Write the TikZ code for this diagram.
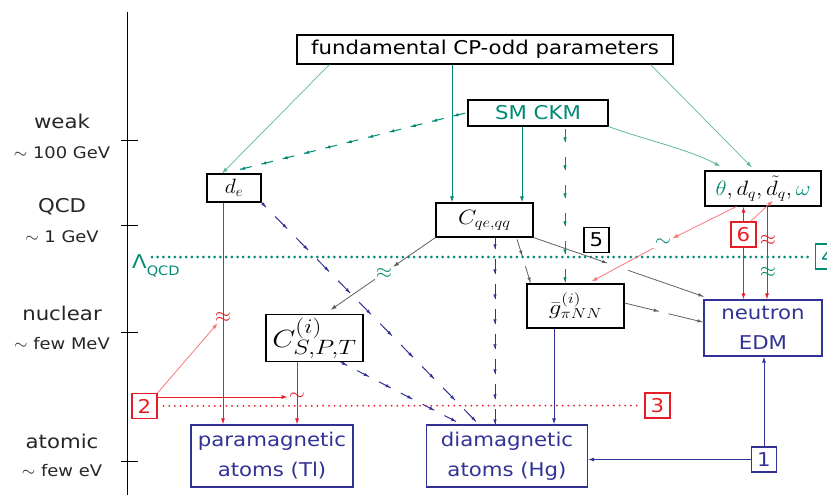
\documentclass[tikz,border=0pt]{standalone}
\usepackage{fontspec}
\setsansfont[FakeStretch=1.12]{DejaVu Sans}
\usetikzlibrary{arrows.meta,calc,decorations.markings}
\definecolor{tealc}{RGB}{0,138,115}
\definecolor{lteal}{RGB}{95,182,162}
\definecolor{bluec}{RGB}{50,50,150}
\definecolor{redc}{RGB}{232,28,36}
\definecolor{lred}{RGB}{245,120,120}
\definecolor{grayc}{RGB}{95,95,95}
\newcommand{\mth}[3]{{\fontsize{#1}{#1}\selectfont\scalebox{#2}[1]{$#3$}}}
\newcommand{\msym}[1]{{\fontsize{20.74}{24}\selectfont$#1$}}
\newcommand{\msim}{{\fontsize{17.28}{20}\selectfont$\sim$}}
\begin{document}
\begin{tikzpicture}[x=1pt,y=-1pt,
  font=\fontsize{19}{30}\selectfont\sffamily,
  >={Latex[length=6pt,width=4pt]},
  box/.style={draw, line width=1.1pt, inner sep=0pt, align=center},
  bbox/.style={box, draw=bluec, text=bluec},
  numbox/.style={box, minimum width=25pt, minimum height=25pt},
  sym/.style={inner sep=1pt},
  lbl/.style={text=black!85},
  sublbl/.style={text=black!85, font=\fontsize{16}{18}\selectfont\sffamily},
  arrdash/.style n args={3}{dash pattern=on #1 off #2,
    postaction={decorate, decoration={markings,
      mark=between positions 0pt and -0.5pt step #3 with {\arrowreversed{Latex[length=5pt,width=3.5pt]}}}}}]
\useasboundingbox (0,0) rectangle (827,495);

% scale axis
\coordinate (axt) at (127,12);
\coordinate (axb) at (127,495);
\draw[line width=1pt] (axt) -- (axb);
\foreach \yy in {140,225,332,461} \draw[line width=1pt] (121,\yy) -- (138,\yy);
\node[lbl] (lw) at (62,121) {weak};
\node[sublbl] (lw2) at (62,153) {\msim{} 100 GeV};
\node[lbl] (lq) at (62,207) {QCD};
\node[sublbl] (lq2) at (62,237) {\msim{} 1 GeV};
\node[lbl] (ln) at (62,313) {nuclear};
\node[sublbl] (ln2) at (62,344) {\msim{} few MeV};
\node[lbl] (la) at (62,441) {atomic};
\node[sublbl] (la2) at (62,471) {\msim{} few eV};

% nodes
\node[box, minimum width=376pt, minimum height=29pt] (fund) at (485,49.5) {fundamental CP-odd parameters};
\node[box, text=tealc, minimum width=140pt, minimum height=26pt] (ckm) at (538,113) {SM CKM};
\node[box, minimum width=54pt, minimum height=28pt] (de) at (234,188) {\mth{20.74}{1.04}{d_e}};
\node[box, minimum width=97pt, minimum height=34pt] (cqe) at (484.5,220) {\mth{20.74}{1.15}{C_{qe,qq}}};
\node[box, minimum width=116pt, minimum height=35pt] (theta) at (763,188.5) {\mth{20.74}{1.1}{\textcolor{tealc}{\theta}, d_q, \tilde{d}_q, \textcolor{tealc}{\omega}}};
\node[box, minimum width=97pt, minimum height=47pt] (cspt) at (314.5,338) {\mth{24.88}{1.2}{C^{(i)}_{S,P,T}}};
\node[box, minimum width=97pt, minimum height=44pt] (gpinn) at (575.5,306) {\mth{20.74}{1.2}{\bar{g}^{(i)}_{\pi NN}}};
\node[bbox, minimum width=118pt, minimum height=56pt] (nedm) at (763,328) {neutron\\EDM};
\node[bbox, minimum width=162pt, minimum height=62pt] (para) at (272,456) {paramagnetic\\atoms (Tl)};
\node[bbox, minimum width=161pt, minimum height=62pt] (dia) at (507,456) {diamagnetic\\atoms (Hg)};
\node[numbox, draw=bluec, text=bluec] (b1) at (764,459.5) {1};
\node[numbox, draw=redc, text=redc] (b2) at (144.5,406) {2};
\node[numbox, draw=redc, text=redc] (b3) at (657.5,405.5) {3};
\node[numbox, draw=tealc, text=tealc] (b4) at (828,256.5) {4};
\node[numbox] (b5) at (596.5,240) {5};
\node[numbox, draw=redc, text=redc] (b6) at (743.5,234.5) {6};

% Lambda_QCD
\node[text=tealc, anchor=base west, inner sep=0pt] (lqcd) at (132,268) {Λ\raisebox{-7pt}{\fontsize{13}{13}\selectfont QCD}};
\coordinate (q1) at (152,257);
\draw[tealc, line width=3pt, line cap=round, dash pattern=on 0pt off 5.7pt] (q1) -- ($(b4.west)+(-3,0.5)$);

% symbol nodes
\node[sym, text=tealc] (apx1) at (384,273) {\msym{\approx}};
\node[sym, text=tealc] (tl1) at (663,243) {\msym{\sim}};
\node[sym, text=redc] (apx2) at (223,317) {\msym{\approx}};
\node[sym, text=redc] (tl2) at (297,397) {\msym{\sim}};
\node[sym, text=redc] (apx3) at (768,240) {\msym{\approx}};
\node[sym, text=tealc] (apx4) at (768,272) {\msym{\approx}};

% teal connectors
\draw[lteal, line width=0.7pt, ->] ($(fund.south west)+(33,0)$) -- ($(de.north)+(-12,0)$);
\draw[tealc, line width=1pt, ->] ($(fund.south)+(-33,0)$) -- ($(cqe.north)+(-32.5,0)$);
\draw[lteal, line width=0.7pt, ->] ($(fund.south east)+(-23,0)$) -- ($(theta.north)+(-11,-3)$);
\draw[tealc, line width=1pt, ->] ($(ckm.south)+(-16,0)$) -- ($(cqe.north)+(37.5,0)$);
\draw[lteal, line width=0.8pt, ->] (ckm.south east) .. controls ($(ckm.south east)+(32,12)$) and ($(theta.north west)+(-15,-21)$) .. ($(theta.north west)+(16,-4)$);
\draw[tealc, line width=1pt, arrdash={12pt}{10pt}{22pt}] ($(de.north)+(6,-4)$) -- ($(ckm.west)+(-2,0)$);
\draw[tealc, line width=1pt, arrdash={13pt}{15pt}{28pt}] ($(gpinn.north)+(-10.5,-1)$) -- ($(ckm.south)+(27,0)$);

% blue connectors
\draw[bluec, line width=1pt, arrdash={17pt}{13pt}{30pt}] ($(dia.north west)+(50,-3)$) -- (de.south east);
\draw[bluec, line width=1pt, arrdash={13pt}{11.5pt}{24.5pt}] ($(dia.north west)+(30,-3)$) -- ($(cspt.south east)+(-23,0)$);
\draw[bluec, line width=1pt, arrdash={15pt}{10pt}{25pt}] ($(dia.north)+(-12,0)$) -- ($(cqe.south)+(10.5,0)$);
\draw[bluec, line width=1pt, ->] ($(gpinn.south)+(-21.5,0)$) -- ($(dia.north)+(47,0)$);
\draw[bluec, line width=1pt, ->] (b1.west) -- (b1.west -| dia.east);
\draw[bluec, line width=1pt, ->] (b1.north) -- (b1.north |- nedm.south);

% gray connectors
\draw[grayc, line width=0.8pt, arrdash={80pt}{22pt}{102pt}] ($(nedm.north west)+(0,-3)$) -- (cqe.south east);
\draw[grayc, line width=0.8pt, arrdash={17pt}{11pt}{28pt}] ($(gpinn.north west)+(4,-1)$) -- ($(cqe.south)+(32,0)$);
\draw[grayc, line width=0.8pt, arrdash={35pt}{10pt}{45pt}] ($(nedm.west)+(-1,-6)$) -- ($(gpinn.east)+(0,-3)$);
\draw[grayc, line width=0.8pt, ->] (cqe.south west) -- (apx1);
\draw[grayc, line width=0.8pt, ->] (apx1) -- ($(cspt.north)+(16,-4)$);

% red connectors
\draw[lred, line width=0.8pt, ->] ($(theta.south west)+(32,0)$) -- (tl1);
\draw[lred, line width=0.8pt, ->] (tl1) -- ($(gpinn.north)+(16,-2)$);
\draw[redc, line width=1pt, ->] (de.south -| apx2) -- (para.north -| apx2);
\draw[redc, line width=1pt, ->] (cspt.south -| tl2) -- (para.north -| tl2);
\draw[lred, line width=0.8pt, ->] (b2.north east) -- (apx2);
\draw[redc, line width=1pt, ->] (b2.east |- tl2) -- (tl2);
\draw[redc, line width=2pt, line cap=round, dash pattern=on 0pt off 5.7pt, shorten <=6pt, shorten >=5pt] (b2.east) -- (b3.west);
\draw[redc, line width=1pt, ->] (b6.north) -- (b6.north |- theta.south);
\draw[redc, line width=1pt, ->] (b6.south) -- (b6.south |- nedm.north);
\draw[lred, line width=0.8pt, ->] ($(b6.north)+(7,0)$) -- ($(theta.south)+(10,-6)$);
\draw[redc, line width=1pt, ->] ($(theta.south)+(4,0)$) -- ($(nedm.north)+(4,0)$);
\end{tikzpicture}
\end{document}
